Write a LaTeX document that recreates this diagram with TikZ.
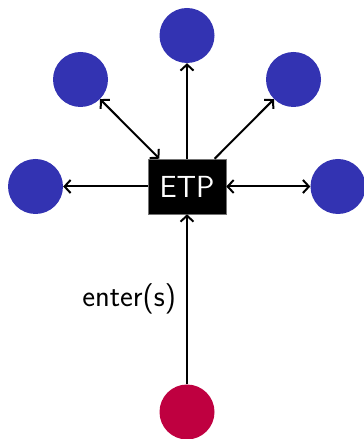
\documentclass[tikz,border=0pt]{standalone}
\usetikzlibrary{arrows.meta}
\definecolor{agentblue}{RGB}{51,51,178}
\definecolor{entryred}{RGB}{191,0,64}
\begin{document}
\begin{tikzpicture}[x=1pt,y=1pt,
  font=\sffamily\fontsize{30.5}{36}\selectfont,
  agent/.style={circle,fill=agentblue,minimum size=55pt,inner sep=0pt},
  entry/.style={circle,fill=entryred,minimum size=55pt,inner sep=0pt},
  hub/.style={rectangle,fill=black,draw=black!55,line width=0.6pt,text=white,
    minimum width=78pt,minimum height=55pt,inner sep=0pt},
  link/.style={line width=2pt,-{Straight Barb[length=6pt,width=13pt]}},
  blink/.style={line width=2pt,{Straight Barb[length=6pt,width=13pt]}-{Straight Barb[length=6pt,width=13pt]}}]
  \useasboundingbox (0,0) rectangle (364,439);
  % central hub
  \node[hub] (etp) at (187,252.5) {ETP};
  % surrounding agents
  \node[agent] (top) at (187,403.5) {};
  \node[agent] (ul)  at (80.5,359.5) {};
  \node[agent] (ur)  at (293.5,359.5) {};
  \node[agent] (lft) at (35.5,252.5) {};
  \node[agent] (rgt) at (338,252.5) {};
  \node[entry] (bot) at (187,27) {};
  % connectors
  \draw[link] (etp) -- (top);
  \draw[blink] (ul) -- (etp);
  \draw[link] (etp) -- (ur);
  \draw[link] (etp) -- (lft);
  \draw[blink] (etp) -- (rgt);
  \draw[link] (bot) -- node[left,inner sep=10pt] {enter(s)} (etp);
\end{tikzpicture}
\end{document}
